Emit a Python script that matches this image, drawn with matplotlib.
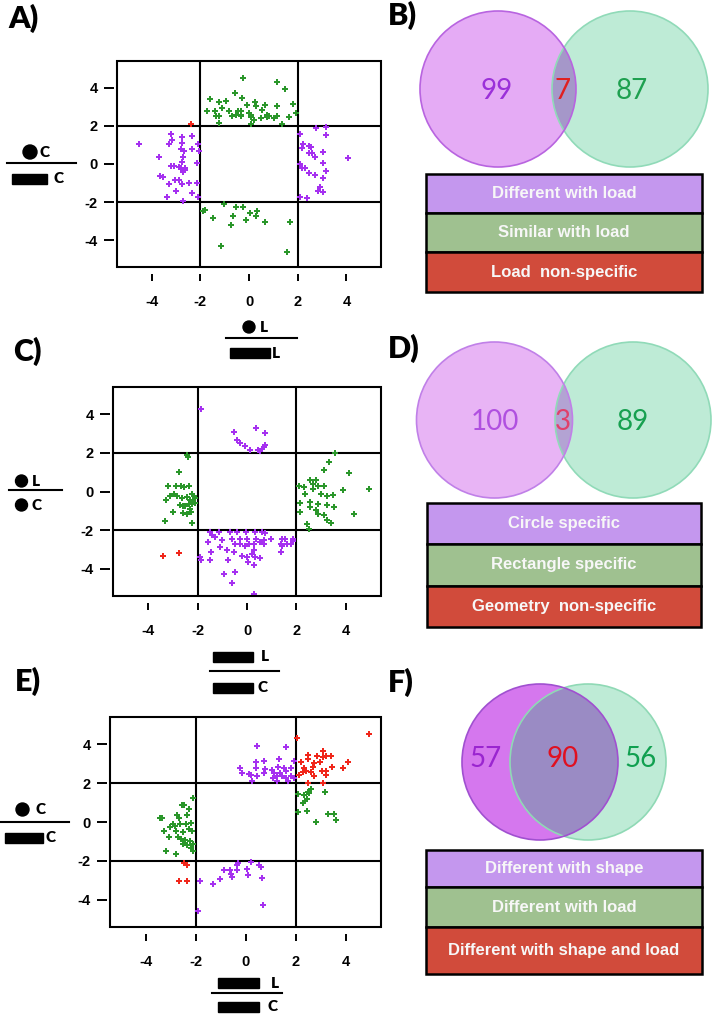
import matplotlib.pyplot as plt
import numpy as np
from matplotlib.patches import Circle, Rectangle

plt.rcParams['font.family'] = ['Liberation Sans', 'DejaVu Sans']
plt.rcParams['axes.unicode_minus'] = False

# ---- scatter data (x, y) ----
a_purple = np.array([
    (-4.53, 1.05), (-3.22, 1.55), (-3.16, 1.26), (-3.29, 1.03), (-2.74, 1.43), (-2.33, 1.48),
    (-2.74, 1.08), (-2.09, 1.05), (-2.81, 0.77), (-2.67, 0.70), (-2.33, 0.77), (-2.06, 0.70),
    (-3.70, 0.38), (-2.70, 0.38), (-2.74, 0.12), (-2.15, 0.03), (-3.20, -0.09), (-3.09, -0.09),
    (-2.88, -0.14), (-2.81, -0.23), (-2.63, -0.23), (-2.70, -0.40), (-2.61, -0.31), (-3.64, -0.61),
    (-3.53, -0.70), (-3.02, -0.84), (-2.88, -0.84), (-3.29, -1.06), (-2.74, -1.06), (-2.47, -0.98),
    (-2.13, -0.98), (-2.99, -1.40), (-2.36, -1.50), (-3.36, -1.71), (-2.09, -1.71), (-2.70, -1.92),
    (2.09, 1.55), (2.74, 1.87), (3.16, 1.96), (2.23, 1.05), (2.47, 0.96), (2.54, 0.91), (2.19, 0.82),
    (3.18, 1.52), (2.47, 0.56), (2.57, 0.56), (2.70, 0.38), (3.05, 0.65), (4.05, 0.30), (3.05, 0.07),
    (2.10, 0.00), (2.17, -0.19), (2.29, -0.19), (3.18, -0.37), (2.47, -0.45), (2.70, -0.58),
    (3.02, -0.75), (2.92, -1.22), (3.05, -1.45), (2.85, -1.40), (2.10, -1.75), (2.37, -1.76)])
a_green = np.array([
    (-0.23, 4.52), (1.14, 4.31), (1.48, 3.91), (-0.58, 3.70), (-0.27, 3.44), (-1.62, 3.39),
    (-1.23, 3.26), (-0.96, 3.32), (0.23, 3.26), (-0.07, 3.09), (0.27, 3.04), (0.64, 3.09),
    (1.17, 3.04), (1.82, 3.12), (-1.71, 2.79), (-1.40, 2.79), (-1.10, 2.91), (-0.82, 2.79),
    (-0.45, 2.77), (-0.32, 2.77), (0.00, 2.65), (0.55, 2.83), (1.92, 2.65), (-1.37, 2.51),
    (-1.23, 2.51), (-0.69, 2.51), (-0.55, 2.57), (-0.34, 2.57), (0.07, 2.57), (0.10, 2.48),
    (0.75, 2.57), (0.82, 2.51), (1.17, 2.51), (0.48, 2.39), (0.75, 2.44), (1.03, 2.39),
    (1.65, 2.48), (-1.23, 2.13), (0.10, 2.09), (1.37, 2.09), (-0.34, 2.51), (0.21, 2.30),
    (-1.03, -2.09), (-1.82, -2.41), (-1.88, -2.48), (-0.55, -2.27), (-0.23, -2.27), (0.34, -2.44),
    (0.04, -2.58), (0.27, -2.72), (-0.64, -2.72), (-1.48, -2.84), (-0.14, -2.93), (0.64, -3.02),
    (1.69, -3.05), (-0.75, -3.19), (-1.17, -4.29), (1.55, -4.61)])
a_red = np.array([(-2.37, 2.09)])

c_purple = np.array([
    (-1.88, 4.25), (-0.54, 3.10), (0.38, 3.26), (0.74, 3.00), (-0.40, 2.68), (-0.30, 2.49),
    (-0.09, 2.33), (0.13, 2.16), (0.44, 2.16), (0.54, 2.11), (0.61, 2.20), (0.67, 2.28), (0.74, 2.40),
    (-1.48, -2.09), (-1.14, -2.09), (-0.70, -2.09), (-0.40, -2.09), (-0.03, -2.09), (0.34, -2.09),
    (0.61, -2.09), (0.74, -2.14), (-1.41, -2.26), (-1.28, -2.35), (-0.61, -2.44), (-0.27, -2.44),
    (0.00, -2.44), (0.38, -2.44), (0.67, -2.49), (0.97, -2.44), (1.41, -2.44), (1.55, -2.44),
    (1.86, -2.44), (-1.59, -2.61), (-1.01, -2.52), (-0.47, -2.69), (-0.27, -2.69), (0.07, -2.69),
    (0.27, -2.69), (0.54, -2.61), (0.67, -2.69), (1.37, -2.69), (1.62, -2.69), (1.78, -2.69),
    (1.88, -2.56), (-1.08, -2.86), (-0.07, -2.83), (1.41, -2.83), (-0.54, -3.12), (0.27, -3.04),
    (-0.81, -3.04), (-1.45, -3.12), (1.37, -3.12), (-0.20, -3.34), (0.20, -3.24), (0.00, -3.41),
    (0.34, -3.38), (0.51, -3.46), (-1.88, -3.55), (-1.51, -3.55), (-0.78, -3.52), (0.03, -3.64),
    (0.27, -3.81), (-0.94, -4.24), (-0.47, -4.15), (-0.61, -4.75), (0.27, -5.32), (-1.91, -3.38)])
c_green = np.array([
    (-2.40, 1.80), (-2.42, 1.90), (-2.76, 0.99), (-3.19, 0.31), (-2.89, 0.26), (-2.66, 0.26),
    (-2.56, 0.22), (-2.36, 0.26), (-2.96, -0.12), (-2.83, -0.21), (-3.10, -0.21), (-2.62, -0.34),
    (-2.42, -0.29), (-2.22, -0.12), (-2.15, -0.24), (-2.09, -0.34), (-3.26, -0.46), (-2.29, -0.43),
    (-2.18, -0.50), (-2.09, -0.60), (-2.69, -0.72), (-2.49, -0.77), (-2.36, -0.67), (-2.22, -0.67),
    (-2.59, -0.77), (-2.29, -0.89), (-3.00, -1.06), (-2.59, -1.11), (-2.42, -1.15), (-2.25, -1.06),
    (-3.32, -1.53), (-2.22, -1.63),
    (3.57, 1.97), (3.30, 1.51), (3.12, 1.11), (4.11, 0.94), (2.09, 0.26), (2.31, 0.22), (2.53, 0.60),
    (2.67, 0.39), (2.80, 0.60), (2.89, 0.31), (3.10, 0.31), (2.65, 0.14), (2.36, -0.12), (3.90, 0.09),
    (4.95, 0.14), (2.99, -0.12), (3.23, -0.21), (3.47, -0.17), (2.13, -0.60), (2.56, -0.55),
    (2.89, -0.67), (3.23, -0.72), (3.50, -0.81), (2.56, -0.81), (2.80, -0.98), (2.13, -1.06),
    (2.89, -1.18), (3.10, -1.23), (4.31, -1.15), (3.23, -1.49), (3.41, -1.63), (2.42, -1.70),
    (2.49, -1.96)])
c_red = np.array([(-3.41, -3.34), (-2.76, -3.17)])

e_purple = np.array([
    (0.44, 3.93), (1.61, 3.88), (0.40, 3.11), (0.74, 3.16), (1.34, 3.25), (1.94, 3.15),
    (-0.23, 2.77), (0.40, 2.77), (0.76, 2.74), (1.07, 2.69), (1.31, 2.81), (1.54, 2.77),
    (1.81, 2.77), (-0.16, 2.52), (0.13, 2.47), (0.23, 2.43), (0.47, 2.35), (0.74, 2.52),
    (1.14, 2.52), (1.38, 2.52), (1.61, 2.60), (1.25, 2.35), (1.47, 2.35), (1.81, 2.35),
    (1.11, 2.26), (0.27, 2.09), (1.27, 2.09), (1.61, 2.26), (1.94, 2.26), (1.70, 2.09),
    (-0.29, -2.11), (0.20, -2.04), (-0.34, -2.19), (0.54, -2.19), (0.60, -2.30), (0.07, -2.41),
    (-0.34, -2.47), (-0.87, -2.47), (-0.63, -2.47), (-0.60, -2.67), (-0.54, -2.84), (0.09, -2.70),
    (0.67, -2.87), (-1.01, -2.93), (-1.81, -3.01), (-1.31, -3.18), (0.71, -4.29), (-1.90, -4.57)])
e_green = np.array([
    (-2.10, 1.24), (-2.45, 0.90), (-2.55, 0.90), (-2.28, 0.65), (-3.42, 0.22), (-3.35, 0.22),
    (-2.75, 0.36), (-2.68, 0.22), (-2.35, 0.36), (-2.91, -0.12), (-2.82, -0.20), (-2.61, -0.12),
    (-2.37, -0.09), (-2.18, -0.03), (-3.02, -0.26), (-2.28, -0.37), (-2.14, -0.46), (-3.26, -0.46),
    (-2.78, -0.46), (-2.51, -0.49), (-3.08, -0.77), (-2.72, -0.77), (-2.59, -0.88), (-2.41, -0.94),
    (-2.24, -0.97), (-2.51, -1.11), (-2.33, -1.17), (-2.10, -1.14), (-2.17, -1.34), (-3.18, -1.48),
    (-2.78, -1.62), (-2.10, -1.48),
    (2.61, 1.72), (2.48, 1.53), (2.35, 1.41), (2.08, 1.45), (2.45, 1.19), (2.37, 1.07), (2.28, 0.99),
    (3.18, 1.55), (2.08, 0.51), (2.45, 0.56), (2.81, 0.02), (3.28, 0.43), (3.55, 0.43), (3.62, 0.09),
    (2.55, 1.50)])
e_red = np.array([
    (4.92, 4.51), (2.05, 4.30), (2.48, 3.45), (2.86, 3.42), (3.08, 3.33), (3.22, 3.37), (3.42, 3.37),
    (4.09, 3.11), (2.21, 3.11), (2.48, 3.23), (2.75, 3.03), (2.98, 3.11), (2.35, 2.77), (2.68, 2.81),
    (3.08, 3.66), (3.45, 2.81), (3.89, 2.77), (3.05, 2.60), (3.22, 2.64), (2.28, 2.55), (2.41, 2.60),
    (2.61, 2.57), (3.22, 2.43), (2.48, 2.01), (3.08, 2.01), (2.75, 2.35), (2.14, 2.43),
    (-2.45, -2.13), (-2.35, -2.19), (-2.68, -3.01), (-2.35, -3.04)])

# ---- Venn counts and legend labels ----
b_counts = [99, 7, 87]
d_counts = [100, 3, 89]
f_counts = [57, 90, 56]
b_labels = ['Different with load', 'Similar with load', 'Load  non-specific']
d_labels = ['Circle specific', 'Rectangle specific', 'Geometry  non-specific']
f_labels = ['Different with shape', 'Different with load', 'Different with shape and load']

PURPLE, GREEN, RED = '#A530F0', '#2A962A', '#F0261A'
ROW_COLORS = ['#C497EE', '#9FC190', '#D14B3B']

W, H = 712, 1015
fig = plt.figure(figsize=(7.12, 10.15), dpi=100)


def scatter_panel(l, t, r, b, groups):
    ax = fig.add_axes([l / W, 1 - b / H, (r - l) / W, (b - t) / H])
    for pts, col in groups:
        ax.scatter(pts[:, 0], pts[:, 1], s=14, marker='P', color=col, linewidths=0, zorder=3)
    for v in (-2, 2):
        ax.axvline(v, color='k', lw=1.5, zorder=2)
        ax.axhline(v, color='k', lw=1.5, zorder=2)
    ax.set_xlim(-5.42, 5.42)
    ax.set_ylim(-5.4, 5.4)
    ax.set_xticks([-4, -2, 0, 2, 4])
    ax.set_yticks([-4, -2, 0, 2, 4])
    for s in ax.spines.values():
        s.set_visible(False)
    ax.spines['bottom'].set_position(('outward', 5))
    ax.spines['left'].set_position(('outward', 2))
    ax.tick_params(axis='x', length=5, width=1.4, pad=10, labelsize=10.5)
    ax.tick_params(axis='y', length=7, width=1.4, pad=5, labelsize=10.5)
    for lab in ax.get_xticklabels() + ax.get_yticklabels():
        lab.set_fontweight('bold')
    ax.add_patch(Rectangle((0, 0), 1, 1, transform=ax.transAxes, fill=False,
                           lw=1.5, ec='k', clip_on=False, zorder=4))
    return ax


scatter_panel(117, 61, 381, 267, [(a_purple, PURPLE), (a_green, GREEN), (a_red, RED)])
scatter_panel(113, 387, 381, 596, [(c_purple, PURPLE), (c_green, GREEN), (c_red, RED)])
scatter_panel(110, 717, 381, 927, [(e_purple, PURPLE), (e_green, GREEN), (e_red, RED)])

# overlay in pixel coordinates for labels, Venn diagrams and legend boxes
ov = fig.add_axes([0, 0, 1, 1])
ov.set_xlim(0, W)
ov.set_ylim(H, 0)
ov.axis('off')

SYM_FONT = dict(family=['Lato', 'DejaVu Sans'], fontweight='heavy', fontsize=11)


def frac(x0, x1, yl, top, bot):
    ov.plot([x0, x1], [yl, yl], color='k', lw=1.5)
    for kind, cx, cy, w, letter, lx in (top, bot):
        if kind == 'c':
            ov.add_patch(Circle((cx, cy), w / 2, color='k'))
        else:
            ov.add_patch(Rectangle((cx - w / 2, cy - 5), w, 10, color='k'))
        ov.text(lx, cy, letter, ha='left', va='center', **SYM_FONT)


frac(7, 76, 163, ('c', 30, 152, 14, 'C', 40), ('r', 29.5, 178.5, 35, 'C', 53))
frac(226, 297, 338, ('c', 249, 327, 12, 'L', 260), ('r', 250, 353, 40, 'L', 272))
frac(9, 62, 490, ('c', 21.5, 481, 12, 'L', 32), ('c', 21.5, 505, 12, 'C', 32))
frac(210, 279, 671, ('r', 233, 656.5, 40, 'L', 261), ('r', 233, 687.5, 40, 'C', 258))
frac(0, 69, 822, ('c', 22.5, 809.5, 13, 'C', 36), ('r', 24, 838, 38, 'C', 46))
frac(212, 282, 993, ('r', 238.5, 983, 41, 'L', 271), ('r', 238.5, 1006.5, 41, 'C', 267))

for x, y, s in [(8, 28, 'A)'), (388, 25, 'B)'), (13, 361, 'C)'),
                (388, 358, 'D)'), (15, 691, 'E)'), (388, 692, 'F)')]:
    ov.text(x, y, s, fontsize=22, fontweight='heavy', family=['Lato', 'DejaVu Sans'],
            ha='left', va='baseline')


def venn(cl, cr, r, counts, fills, edges, inter, tx, ty, tcols):
    pl = Circle(cl, r, fc=fills[0], ec='none')
    pr = Circle(cr, r, fc=fills[1], ec='none')
    ov.add_patch(pl)
    ov.add_patch(pr)
    pi = Circle(cr, r, fc=inter, ec='none')
    ov.add_patch(pi)
    pi.set_clip_path(pl)
    ov.add_patch(Circle(cr, r, fill=False, ec=edges[1], lw=1.2))
    ov.add_patch(Circle(cl, r, fill=False, ec=edges[0], lw=1.2))
    for x, n, c in zip(tx, counts, tcols):
        ov.text(x, ty, str(n), color=c, fontsize=20, ha='center', va='center',
                family=['Lato', 'DejaVu Sans'])


def legend_box(x0, x1, ys, labels):
    for i, (lab, col) in enumerate(zip(labels, ROW_COLORS)):
        ov.add_patch(Rectangle((x0, ys[i]), x1 - x0, ys[i + 1] - ys[i], fc=col, ec='k', lw=1.8))
        ov.text((x0 + x1) / 2, (ys[i] + ys[i + 1]) / 2, lab, color='#F7F7F7',
                fontweight='bold', fontsize=12, ha='center', va='center')


venn((498, 89), (630, 89), 78, b_counts, ('#E5ABF5', '#BEEBD6'), ('#B864E0', '#90DAB8'),
     '#A597C9', (497, 563, 632), 91, ('#9B30D9', '#E02020', '#1EA050'))
legend_box(426, 702, [174, 213, 252, 292], b_labels)

venn((494.5, 420), (633, 420), 78, d_counts, ('#E8B4F5', '#BEEBD6'), ('#C080E8', '#90DAB8'),
     '#B3A3D3', (495, 563, 633), 422, ('#B050E0', '#E0406A', '#17A050'))
legend_box(427, 701, [503, 544, 586, 627], d_labels)

venn((540, 762), (588, 762), 78, f_counts, ('#D577EE', '#BEEBD6'), ('#A050D0', '#8FD9B5'),
     '#9A8BC4', (486, 563, 641), 759, ('#9A25D0', '#E01020', '#10A050'))
legend_box(426, 702, [850, 887, 927, 974], f_labels)

fig.savefig('out.png', dpi=100)
